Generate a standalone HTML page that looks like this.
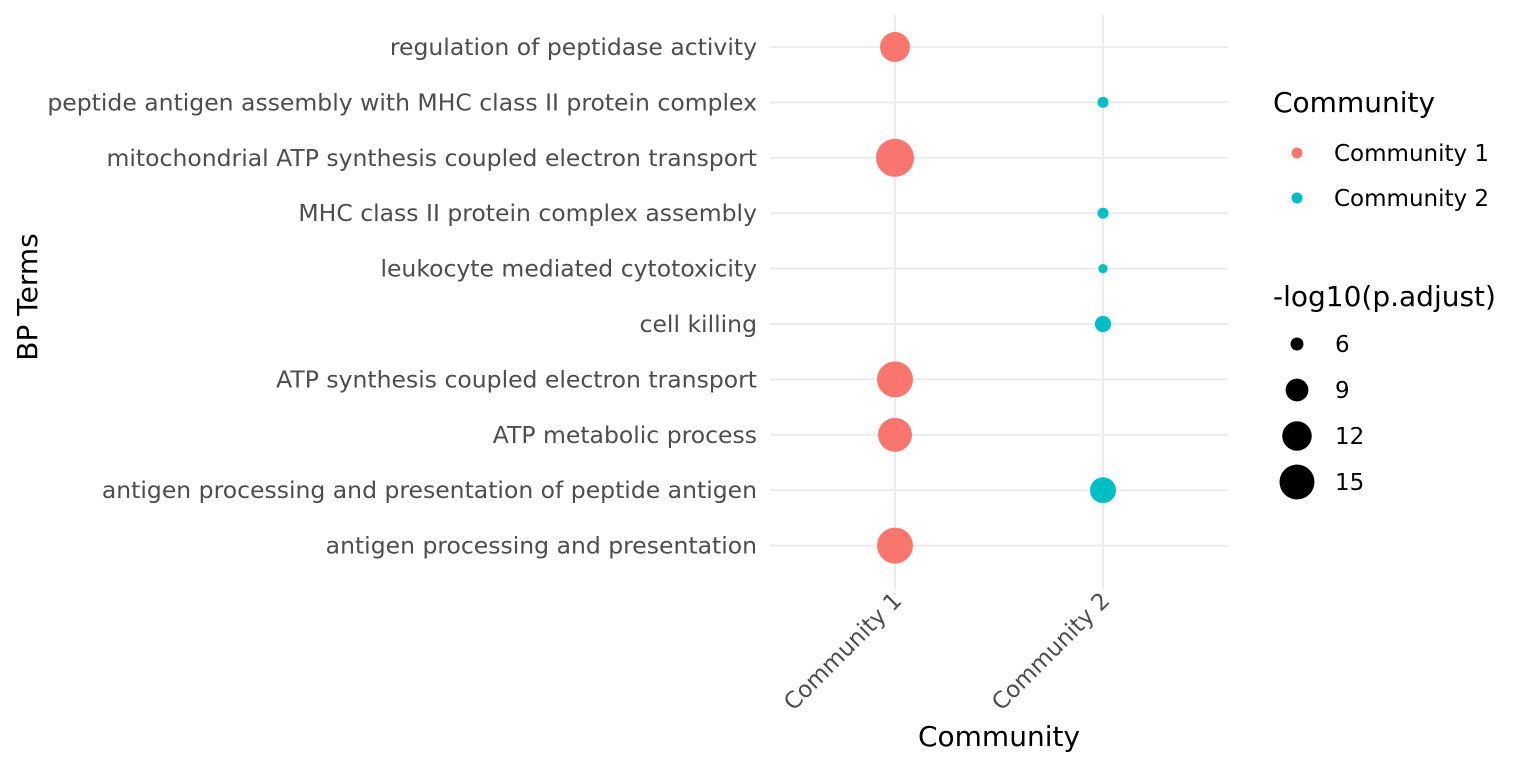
<!DOCTYPE html>
<html><head><meta charset="utf-8"><style>
body{margin:0;background:#fff;}
svg{font-family:"DejaVu Sans","Liberation Sans",sans-serif;}
</style></head><body>
<svg id="chart" width="1536" height="768">
<g id="grid"></g><g id="ylabels"></g><g id="xlabels"></g><g id="dots"></g>
<text x="37" y="297" transform="rotate(-90 37 297)" text-anchor="middle" font-size="28" fill="#000">BP Terms</text>
<text x="999" y="746" text-anchor="middle" font-size="28" fill="#000">Community</text>
<g id="legend"></g>
</svg>
<script>
const terms=["regulation of peptidase activity","peptide antigen assembly with MHC class II protein complex","mitochondrial ATP synthesis coupled electron transport","MHC class II protein complex assembly","leukocyte mediated cytotoxicity","cell killing","ATP synthesis coupled electron transport","ATP metabolic process","antigen processing and presentation of peptide antigen","antigen processing and presentation"];
const communities=["Community 1","Community 2"];
const termCommunity=[0,1,0,1,1,1,0,0,1,0];
const logP=[12.2,5.6,16.9,5.6,5.3,6.8,15.6,14.4,10.3,15.6];
const sizeBreaks=[6,9,12,15];
const colors=["#F8766D","#00BFC4"];
const NS="http://www.w3.org/2000/svg";
function mk(tag,attrs,parent){const e=document.createElementNS(NS,tag);for(const k in attrs)e.setAttribute(k,attrs[k]);parent.appendChild(e);return e;}
const xPos=i=>895+i*208;
const yPos=i=>47+i*55.4;
const rScale=v=>Math.sqrt(Math.max(4,-134+29.3*v));
const grid=document.getElementById('grid');
communities.forEach((c,i)=>{const l=mk('line',{x1:xPos(i),x2:xPos(i),y1:15,y2:590,stroke:'#ebebeb','stroke-width':2},grid);
});
terms.forEach((t,i)=>{const l=mk('line',{x1:770,x2:1228,y1:yPos(i),y2:yPos(i),stroke:'#ebebeb','stroke-width':2},grid);

const tx=mk('text',{x:757,y:yPos(i)+8,'text-anchor':'end','font-size':23.5,fill:'#4d4d4d'},document.getElementById('ylabels'));
tx.textContent=t;});
communities.forEach((c,i)=>{const x=xPos(i)+8,y=602;
const tx=mk('text',{x:x,y:y,'text-anchor':'end','font-size':23,fill:'#4d4d4d',transform:`rotate(-45 ${x} ${y})`},document.getElementById('xlabels'));
tx.textContent=c;});
terms.forEach((t,i)=>{const c=mk('circle',{cx:xPos(termCommunity[i]),cy:yPos(i),r:rScale(logP[i]),fill:colors[termCommunity[i]]},document.getElementById('dots'));
});
const lg=document.getElementById('legend');
let t=mk('text',{x:1273,y:112,'font-size':28,fill:'#000'},lg);t.textContent='Community';

communities.forEach((c,i)=>{const y=153+i*45;
const d=mk('circle',{cx:1297,cy:y,r:5.5,fill:colors[i]},lg);
const tx=mk('text',{x:1334,y:y+8,'font-size':23,fill:'#000'},lg);tx.textContent=c;
});
t=mk('text',{x:1273,y:306,'font-size':28,fill:'#000'},lg);t.textContent='-log10(p.adjust)';

sizeBreaks.forEach((v,i)=>{const y=344+i*46;
const d=mk('circle',{cx:1297,cy:y,r:rScale(v),fill:'#000'},lg);
const tx=mk('text',{x:1335,y:y+8,'font-size':23,fill:'#000'},lg);tx.textContent=v;
});
</script>
</body></html>
